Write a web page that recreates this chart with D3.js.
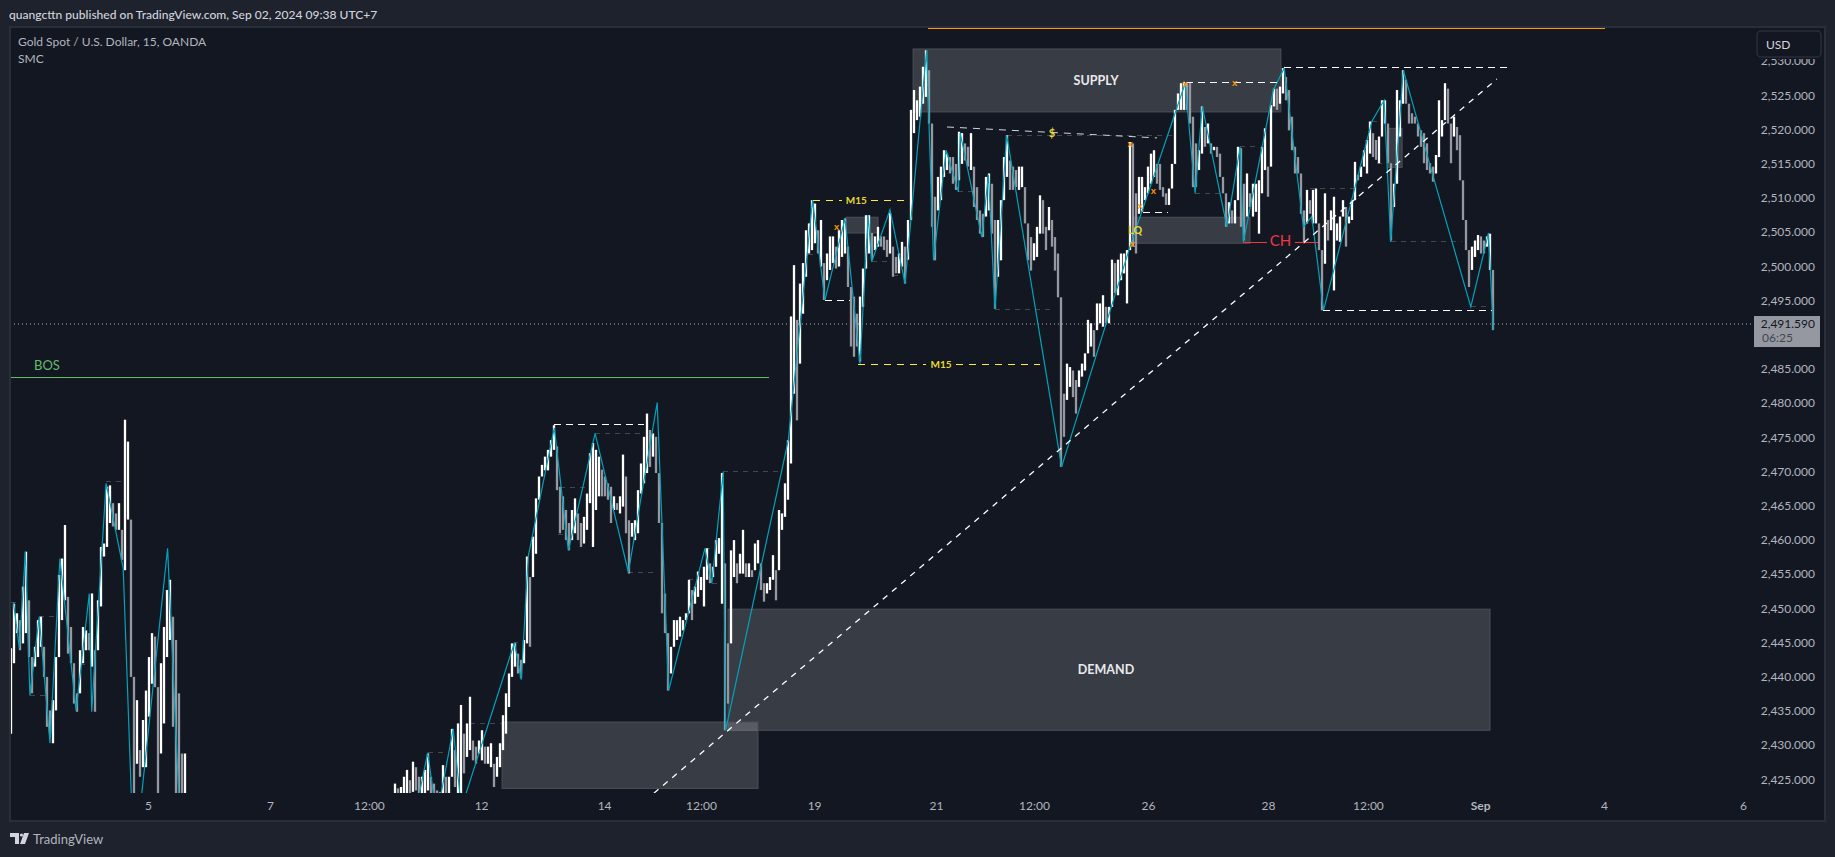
<!DOCTYPE html>
<html><head><meta charset="utf-8">
<script src="https://cdnjs.cloudflare.com/ajax/libs/d3/7.8.5/d3.min.js"></script>
<style>html,body{margin:0;padding:0;background:#1e222d;overflow:hidden}svg{display:block}text{font-family:Lato,"Noto Sans",sans-serif}</style>
</head><body><svg id="c" width="1835" height="857"></svg>
<script>
// [high, low] per visible bar column
const barsStartA = 0;
const barsA = [[2444.2,2431.7],[2450.7,2442],[2449.3,2446.4],[2448.3,2443.9],[2453.2,2444.9],[2458.3,2446.4],[2451.2,2442.9],[2442.9,2437.6],[2444.4,2441.5],[2448.3,2442.9],[2448.8,2444.4],[2444.4,2440],[2440,2432.7],[2435.1,2431.7],[2436.6,2430.3],[2442.9,2435.1],[2454.9,2442.9],[2457.3,2448.3],[2462.2,2451.2],[2451.7,2443.4],[2447.3,2442],[2440.5,2436.1],[2437.6,2434.9],[2443.9,2438.5],[2447.3,2442],[2446.8,2443.9],[2446.4,2443.9],[2452.2,2441.5],[2443.9,2434.9],[2451.2,2445.4],[2459,2450.3],[2459.5,2457.6],[2467.8,2459],[2468,2462.5],[2465.4,2462],[2463.9,2461.5],[2465.4,2461.5],[2461.5,2457.1],[2477.6,2455.6],[2474.4,2463],[2462.9,2440],[2440,2422],[2436.6,2427.3],[2429.3,2425.4],[2433.7,2426.8],[2438,2426.8],[2442.9,2434.2],[2446.4,2439],[2445.9,2438.5],[2437.1,2422],[2442,2428.8],[2447.3,2433.2],[2452.7,2442.9],[2454.2,2445.4],[2448.8,2432.7],[2445.4,2422],[2437.6,2422],[2428.8,2422],[2428.8,2422]];
const barsStartB = 128;
const barsB = [[2424.4,2422],[2423.7,2422],[2423.9,2422],[2425.4,2422],[2426.4,2422],[2424.9,2422],[2427.6,2423.2],[2426.8,2423.4],[2425.4,2422],[2425.4,2422],[2426.4,2422],[2428.8,2423.4],[2425.4,2422],[2424.4,2422],[2423.4,2422],[2423.2,2422],[2427.1,2422],[2425.4,2422],[2425.4,2422],[2432.4,2426.4],[2429.3,2423.9],[2433.2,2422],[2435.9,2422],[2431.7,2425.9],[2433.2,2428.3],[2437.1,2429.3],[2430.7,2427.8],[2429.8,2427.3],[2430.7,2428.8],[2432.2,2427.8],[2429.8,2427.3],[2429.8,2427.3],[2430.3,2426.8],[2427.3,2423.9],[2428.3,2425.4],[2430.3,2426.8],[2434.4,2429.3],[2437.6,2431.7],[2440.5,2435.6],[2444.9,2440],[2444.9,2441.5],[2443.4,2440.5],[2442.5,2439.8],[2445.4,2442],[2457.6,2444.9],[2454.6,2444.4],[2460.5,2454.6],[2466.1,2458],[2469.3,2465.9],[2471,2469.8],[2472.2,2470.2],[2473.2,2470.2],[2474.6,2472.2],[2476.8,2473.2],[2473.7,2467.3],[2467.8,2461],[2466.4,2461.5],[2464.4,2460],[2462.5,2458.5],[2464.4,2460],[2466.1,2461],[2463.9,2460],[2462.5,2459],[2463.4,2459.5],[2466.8,2461.5],[2472.7,2465.4],[2474.2,2459],[2473.2,2464.4],[2472.2,2466.4],[2470.3,2466.4],[2469.3,2466.4],[2468.3,2465.9],[2467.8,2462.5],[2466.4,2464.4],[2465.4,2464.4],[2466.4,2463.9],[2472.5,2464.9],[2469.3,2461],[2462.9,2455.1],[2462.5,2460.5],[2462.9,2460],[2467.3,2461],[2471.2,2466.8],[2475.1,2468.3],[2478.5,2469.8],[2476.1,2470.7],[2475.6,2472.2],[2475.1,2469.8],[2468.8,2462.5],[2458.5,2449.3],[2452.2,2446.4],[2445.4,2438],[2444.4,2440.5],[2448.3,2444.4],[2448.3,2445.4],[2448.8,2445.9],[2448.3,2446.8],[2449.3,2448.3],[2454.2,2449.8],[2452.7,2448.3],[2453.2,2450.7],[2455.4,2451.7],[2454.6,2452.7],[2456.1,2450.3],[2458.8,2454.2],[2456.6,2453.7],[2456.1,2454.6],[2460,2456.6],[2460.3,2458],[2469.8,2450.7],[2456.6,2432.2],[2444.9,2436.1],[2458.5,2450.3],[2460,2454.6],[2456.6,2453.7],[2458,2455.1],[2461.5,2455.1],[2456.6,2454.6],[2456.6,2454.6],[2455.6,2454.6],[2459.5,2456.1],[2460,2456.6],[2456.6,2452.7],[2453.7,2451],[2453.7,2452.2],[2454.6,2452.7],[2457.8,2454.2],[2455.6,2451.2],[2464.4,2459.5],[2463.9,2461.5],[2468.3,2463.4],[2474.6,2465.9]];
const barsStartC = 260;
const barsC = [[2492.7,2471.2],[2500.2,2481.4],[2492.2,2477.5],[2497.5,2485.8],[2500.5,2493.1],[2505.3,2498.5],[2506.3,2501.9],[2509.7,2502.4],[2509.2,2503.4],[2505.3,2501.9],[2506.8,2500],[2500.5,2495.1],[2501.9,2498],[2504.4,2499.5],[2504.4,2500.5],[2502.9,2499.7],[2505.3,2500],[2506.8,2501.4],[2507,2501.9],[2502.9,2497],[2497,2488.3],[2495.6,2486.8],[2493.1,2488.3],[2495.6,2486.1],[2499.7,2494.1],[2507.5,2500],[2507.5,2501.9],[2504.9,2501],[2504.4,2502.4],[2505.8,2502.9],[2504.4,2502.9],[2504.4,2502.4],[2503.9,2501.4],[2507.8,2501.9],[2502.9,2498.5],[2501.4,2499],[2501.9,2499],[2503.6,2500],[2502.9,2497.5],[2506.8,2501]];
const barsStartD = 300;
const barsD = [[2522.9,2515.1],[2525.8,2519.5],[2524.3,2521.4],[2526.3,2521.9],[2529.2,2523.8],[2531.6,2524.8],[2528.7,2520.9],[2514.6,2505.8],[2510.2,2500.9],[2513.1,2508.2],[2514.6,2509.7],[2517,2513.1],[2516.5,2514.1],[2516,2513.6],[2516,2512.1],[2515,2511.2],[2519.7,2512.6],[2519.5,2515],[2518,2515.5],[2517.5,2514.6],[2519.5,2514.1],[2514.6,2508.7],[2511.6,2506.8],[2508.2,2504.8],[2507.7,2504.3],[2513.1,2507.3],[2513.6,2508.2],[2512.1,2504.8],[2506.8,2493.8],[2506.8,2498.5],[2509.7,2500.9],[2516,2509.7],[2519.2,2513.1],[2515.5,2511.2],[2514.6,2511.2],[2514.1,2511.6],[2514.6,2511.2],[2514.6,2511.6],[2510.7,2506.3],[2504.8,2500.9],[2504.3,2499.4],[2503.4,2500.9],[2505.8,2501.4],[2510.4,2504.8],[2509.7,2504.8],[2505.8,2502.4],[2508.7,2505.3],[2506.8,2502.9],[2504.3,2499.4],[2501.9,2495.5],
[2487.3,2470.7],[2481.4,2475.1],[2485.8,2480.5],[2485.3,2482.4],[2484.8,2480.9],[2483.4,2478.5],[2484.8,2482.4],[2485.8,2483.9],[2487.3,2484.8],[2492.2,2487.8],[2491.7,2488.3],[2490.7,2486.8],[2494.6,2490.7],[2494.6,2491.7],[2495.8,2491.2],[2494.1,2491.7],[2494.1,2491.7],[2501,2496.1],[2500.5,2496.1],[2501,2495.8],
[2501.9,2498],[2501.9,2499],[2502.4,2494.6],[2518.2,2503.8],[2518,2502.9],[2510.7,2501.9],[2513.1,2507.7],[2513.1,2508],[2511.6,2509.7],[2514.6,2510.7],[2516.5,2512.1],[2517,2513.1],[2515,2512.1],[2515,2511.2],[2511.6,2510.2],[2510.7,2509],[2511.4,2509],[2515,2511.6],[2522.9,2515],[2525.3,2522.9],[2526.8,2522.9],[2527,2522.9],[2526.8,2522.9],[2526.8,2520.9],[2521.9,2511.6],[2518,2511.6],[2517,2514.1],[2523.4,2516.5],[2520.4,2517.5],[2520.9,2518],[2518,2516.5],[2517.5,2517],[2517.5,2516],[2516.5,2513.1],[2513.1,2510.7],[2508.7,2505.8],[2509.4,2506.3],[2508.2,2506.3],[2509.7,2506.3],[2517.5,2511.6],[2517.3,2505.8],[2512.1,2503.8],[2513.6,2507.3],[2510.7,2508.7],[2512.1,2507.3],[2512.1,2508],[2512.6,2504.8],[2517.5,2510.7],[2520.2,2514.1],[2514.6,2510.2],[2523.6,2518],[2526,2523.4],[2526,2522.9]];
const barsStartE = 423;
const barsE = [[2526.3,2523.8],[2529,2525.3],[2527.7,2524.3],[2525.8,2519.9],[2521.9,2517],[2517.5,2513.6],[2516,2513.6],[2511.7,2507.7],[2508.2,2503.4],[2511.2,2506.3],[2509.7,2507.7],[2511.2,2506.3],[2511.4,2506.3],[2506.3,2502.4],[2501.4,2493.6],[2510.7,2500.4],[2506.8,2503.8],[2508.2,2505.3],[2510.2,2496.5],[2506.3,2503.8],[2507.3,2503.6],[2509.7,2507.3],[2508.7,2502.9],[2507.3,2506.3],[2509.7,2506.8],[2515.3,2511.7],[2513.4,2512.6],[2514.6,2513.1],[2517,2515.1],[2518.5,2513.6],[2521.2,2516.5],[2519.5,2516],[2518.5,2515.6],[2519,2515.1],[2524.3,2519],[2524.3,2520.9],[2520.4,2515.1],[2514.1,2503.8],[2512.1,2508.7],[2525.8,2515.1],[2524.3,2519],[2528.7,2523.8],[2527.3,2523.8],[2523.8,2520.9],[2522.4,2520.9],[2521.9,2520.9],[2520.9,2519],[2519.9,2517.5],[2519.5,2515.1],[2518,2514.1],[2515.1,2513.6],[2514.6,2512.4],[2516.3,2513.6],[2524.3,2516],[2521.4,2519],[2526.8,2523.4],[2526,2520.9],[2520.9,2515.1],[2521.9,2519],[2520.4,2517],[2519.2,2512.6],[2511.7,2506.8],[2505.8,2502.4],[2502.4,2497],[2502.9,2499.5],[2503.8,2501.4],[2504.6,2502.4],[2504.4,2501.9],[2503.8,2501.9],[2504.4,2502.9],[2504.8,2499.5],[2498,2490.7]];

// zigzag pivots [bar, price]; some run below the visible pane
const zigzagLeft = [[0.8,2450.9],[2.8,2444.2],[4.8,2458.3],[6.3,2437.3],[9.4,2448.8],[13,2430.3],[16.3,2457.3],[21.7,2435.1],[26.1,2452.2],[26.9,2434.9],[31.7,2468.3],[37.4,2455.9],[40.4,2419],[42.4,2418],[52.2,2458.8],[56.3,2419]];
const zigzagMain = [[133.4,2417.1],[138.9,2428.9],[141.9,2419.5],[147.4,2432.4],[150.1,2420.8],[167.8,2445],[170.1,2439.6],[172.4,2457.6],[181.1,2476.4],[185.8,2458.5],[194.7,2475.6],[205.8,2455.3],[215.4,2480.1],[219.2,2438],[231.3,2458.8],[233.6,2453.7],[237.4,2470],[238.2,2432.2],[259.1,2474.6],[267.2,2509.7],[271.3,2495.1],[278,2507],[283,2485.8],[285.7,2507.5],[286.9,2500.7],[293,2508.3],[298,2497.5],[305.2,2531.6],[307.5,2500.9],[311.7,2517],[315.8,2510.9],[316.4,2519.5],[323.6,2504.3],[325.8,2513.4],[328,2493.8],[331.9,2519.2],[350.2,2470.7],[373,2502.9],[391.4,2526.8],[394.7,2510.7],[397.1,2523.4],[405.3,2505.8],[409.7,2517.5],[410.8,2503.6],[420.8,2525.8],[424.4,2529],[430.8,2505.8],[433.6,2507.3],[437.5,2493.6],[453.6,2521.2],[457.7,2524.3],[459.9,2503.6],[464.1,2528.7],[474.1,2513.1],[486.6,2494.1],[492.5,2504.9],[494.1,2490.7]];

// zones [barFrom, barTo, priceTop, priceBottom]
const zones = [[300.7,423.3,2531.8,2522.6],[239,493,2449.9,2432.2],[163.7,249,2433.4,2423.7],[374,413,2507.2,2503.4],[278.3,289,2507.2,2504.9],[459,463.7,2520.2,2514.5]];
const zoneLabels = [["SUPPLY",361.7,2527.2],["DEMAND",365,2441]];
// level lines [barFrom, barTo, price]
const faintLevels = [[0,2.4,2450.9],[9.4,14.7,2448.8],[6.3,11.3,2437.3],[31.7,36.9,2468.5],[23,24.7,2441.8],[194.7,211.3,2475.6],[183,192.4,2467.7],[182.4,184.1,2460.8],[205.8,214.7,2455.3],[138.9,144.1,2428.9],[153,165.8,2433.2],[237.4,257.4,2470.1],[231.3,233,2458.8],[233.6,237.4,2453.7],[226.1,227.4,2454.3],[167.8,169.1,2445],[265.7,267.4,2501.8],[286.9,292.4,2500.7],[294.1,296.3,2498.7],[328,348,2493.7],[331.9,388,2519.1],[315.8,320.3,2510.9],[394.7,403,2510.7],[409.7,415.3,2517.5],[433,448,2511.4],[459.9,483.6,2503.7],[453.6,455.3,2521.2],[455.3,457.5,2515.1],[486.6,493,2494.1]];
const whiteLevels = [[181,211,2476.9],[271.3,279.7,2495.1],[391.7,423,2526.9],[424.3,498.7,2529.1],[437.3,493.7,2493.6],[377.3,385.7,2507.9]];
const yellowLevels = [[267.3,277,2509.7],[286.5,298.7,2509.7],[282.3,305,2485.7],[315,343,2485.7]];
const yellowLabels = [["M15",281.8,2509.7],["M15",310,2485.7]];
const redLevels = [[410.7,418.5,2503.5],[428,435.7,2503.5]];
const chLabel = ["CH",423.2,2503.7];
const slopedLevel = [[312,2520.4],[382,2518.8]];
const trendline = [[214.3,2423],[495.3,2527.4]];
const bosLine = [[0,252.7,2483.7]];
const bosLabel = ["BOS",12,2485.6];
const orangeLine = [[305.7,531.3,2534.8]];
const crossMarks = [[373,2517.9],[376.4,2508.9],[380.8,2511],[391.4,2526.7],[407.9,2526.9],[373.8,2503.3],[275.2,2505.8]];
const smallLabels = [["$",347,2519.5],["LQ",374.7,2505.3]];
const lastPrice = 2491.59;
const priceTicks = [2530,2525,2520,2515,2510,2505,2500,2495,2485,2480,2475,2470,2465,2460,2455,2450,2445,2440,2435,2430,2425];
const timeTickBars = [45.7,86.3,119.3,156.7,197.7,230,267.7,308.3,341,379,419,452.3,489.7,531,577.3];
const timeTickLabels = ["5","7","12:00","12","14","12:00","19","21","12:00","26","28","12:00","Sep","4","6"];

const W=1835,H=857, paneL=10,paneT=27,paneR=1825,paneB=821, plotR=1752, plotB=793;
const x=d3.scaleLinear().domain([0,494]).range([11,1493]);
const y=d3.scaleLinear().domain([2525,2425]).range([95.5,779.5]);
const svg=d3.select("#c");
const fmt=d3.format(",.3f");
svg.append("rect").attr("width",W).attr("height",H).attr("fill","#1e222d");
svg.append("rect").attr("x",paneL).attr("y",paneT).attr("width",paneR-paneL).attr("height",paneB-paneT).attr("fill","#131722").attr("stroke","#2a2e39").attr("stroke-width",2);
svg.append("text").attr("x",9).attr("y",19).attr("fill","#d1d4dc").attr("font-size",12.05).attr("font-weight",500).text("quangcttn published on TradingView.com, Sep 02, 2024 09:38 UTC+7");

const defs=svg.append("defs");
defs.append("clipPath").attr("id","plot").append("rect").attr("x",paneL+1).attr("y",paneT+1).attr("width",plotR-paneL-1).attr("height",plotB-paneT-1);
const g=svg.append("g").attr("clip-path","url(#plot)");

// zones
g.selectAll("rect.z").data(zones).join("rect").attr("class","z")
 .attr("x",d=>x(d[0])).attr("width",d=>x(d[1])-x(d[0])).attr("y",d=>y(d[2])).attr("height",d=>y(d[3])-y(d[2]))
 .attr("fill","#ffffff").attr("fill-opacity",.16).attr("stroke","#4c4f58").attr("stroke-width",1);

// last price dotted line
g.append("line").attr("x1",paneL).attr("x2",plotR).attr("y1",y(lastPrice)).attr("y2",y(lastPrice)).attr("stroke","#b2b5be").attr("stroke-width",1).attr("stroke-dasharray","1 3");

function levels(data,color,dash,w){
  g.append("g").attr("shape-rendering","crispEdges").selectAll("line").data(data).join("line")
   .attr("x1",d=>x(d[0])).attr("x2",d=>x(d[1])).attr("y1",d=>y(d[2])).attr("y2",d=>y(d[2]))
   .attr("stroke",color).attr("stroke-width",w||1).attr("stroke-dasharray",dash);
}
levels(faintLevels,"#434651","5 5");

// bars: each column reaches to its neighbour so the trace stays connected
const zig=d3.line().x(d=>x(d[0])).y(d=>y(d[1]));
function drawBars(bars,start,before){
  const mid=d=>(d[0]+d[1])/2;
  const prev=i=>i>0?bars[i-1]:before;
  g.append("g").selectAll("line").data(bars).join("line")
   .attr("x1",(d,i)=>x(start+i)).attr("x2",(d,i)=>x(start+i))
   .attr("y1",(d,i)=>{const p=prev(i);return y(p&&d[0]<p[1]?p[1]:d[0]);})
   .attr("y2",(d,i)=>{const p=prev(i);return y(p&&d[1]>p[0]?p[0]:d[1]);})
   .attr("stroke",(d,i)=>{const p=prev(i);return (!p||mid(d)>=mid(p))?"#ffffff":(d[0]>p[0]?"#ffffff":"#9598a1");})
   .attr("stroke-width",2.3);
}
drawBars(barsA,barsStartA);
drawBars(barsB,barsStartB);
drawBars(barsC,barsStartC,barsB[barsB.length-1]);
drawBars(barsD,barsStartD,barsC[barsC.length-1]);
drawBars(barsE,barsStartE,barsD[barsD.length-1]);

[zigzagLeft,zigzagMain].forEach(p=>g.append("path").attr("d",zig(p)).attr("fill","none").attr("stroke","#00a3bb").attr("stroke-width",1.2));

levels(whiteLevels,"#ffffff","7 5");
levels(yellowLevels,"#ffeb3b","7 6");
levels(redLevels,"#f23645",null,1);
levels(bosLine,"#66bb6a",null,1);
levels(orangeLine,"#ff9800",null,1);
g.append("path").attr("d",zig(slopedLevel)).attr("fill","none").attr("stroke","#d1d4dc").attr("stroke-width",1).attr("stroke-dasharray","7 6");
g.append("path").attr("d",zig(trendline)).attr("fill","none").attr("stroke","#ffffff").attr("stroke-width",1.3).attr("stroke-dasharray","6 6");

g.selectAll("text.zl").data(zoneLabels).join("text").attr("class","zl").attr("x",d=>x(d[1])).attr("y",d=>y(d[2])).attr("dy","0.35em")
 .attr("text-anchor","middle").attr("fill","#e8e9ec").attr("font-size",12.5).attr("font-weight",700).text(d=>d[0]);
g.selectAll("text.yl").data(yellowLabels).join("text").attr("class","yl").attr("x",d=>x(d[1])).attr("y",d=>y(d[2])).attr("dy","0.35em")
 .attr("text-anchor","middle").attr("fill","#e5d832").attr("font-size",10).attr("font-weight",700).text(d=>d[0]);
g.selectAll("text.sl").data(smallLabels).join("text").attr("class","sl").attr("x",d=>x(d[1])).attr("y",d=>y(d[2])).attr("dy","0.35em")
 .attr("text-anchor","middle").attr("fill","#e5d832").attr("font-size",11).attr("font-weight",700).text(d=>d[0]);
g.selectAll("text.xm").data(crossMarks).join("text").attr("class","xm").attr("x",d=>x(d[0])).attr("y",d=>y(d[1])).attr("dy","0.3em")
 .attr("text-anchor","middle").attr("fill","#ff9800").attr("font-size",10).attr("font-weight",700).text("x");
g.append("text").attr("x",x(chLabel[1])).attr("y",y(chLabel[2])).attr("dy","0.35em").attr("text-anchor","middle").attr("fill","#f23645").attr("font-size",15).text(chLabel[0]);
g.append("text").attr("x",x(bosLabel[1])).attr("y",y(bosLabel[2])).attr("dy","0.35em").attr("text-anchor","middle").attr("fill","#66bb6a").attr("font-size",13).text(bosLabel[0]);

// title
svg.append("text").attr("x",18).attr("y",46).attr("fill","#b2b5be").attr("font-size",12).text("Gold Spot / U.S. Dollar, 15, OANDA");
svg.append("text").attr("x",18).attr("y",63).attr("fill","#b2b5be").attr("font-size",12).text("SMC");

// axes
const yAxis=d3.axisRight(y).tickValues(priceTicks).tickSize(0).tickPadding(0).tickFormat(fmt);
const ya=svg.append("g").attr("transform","translate(1815,0)").call(yAxis);
ya.select(".domain").remove();
ya.selectAll("text").attr("text-anchor","end").attr("fill","#b2b5be").attr("font-size",12).attr("x",0).attr("dy","0.3em").style("font-family","Lato");
const xAxis=d3.axisBottom(x).tickValues(timeTickBars).tickSize(0).tickPadding(0).tickFormat((d,i)=>timeTickLabels[i]);
const xa=svg.append("g").attr("transform","translate(0,801)").call(xAxis);
xa.select(".domain").remove();
xa.selectAll("text").attr("fill","#b2b5be").attr("font-size",12).style("font-family","Lato").attr("font-weight",(d,i)=>timeTickLabels[i]==="Sep"?700:400);

// currency button, with a mask that hides the top of the highest price label as in the reference
svg.append("rect").attr("x",1755).attr("y",28).attr("width",68).attr("height",31).attr("fill","#131722");
svg.append("rect").attr("x",1757).attr("y",31).attr("width",64).attr("height",26).attr("rx",4).attr("fill","#131722").attr("stroke","#2a2e39").attr("stroke-width",1.5);
svg.append("text").attr("x",1766).attr("y",49).attr("fill","#d1d4dc").attr("font-size",12).text("USD");

// last price tag
const tagY=y(lastPrice);
svg.append("rect").attr("x",1754).attr("y",tagY-8).attr("width",66).attr("height",31).attr("fill","#9598a1");
svg.append("text").attr("x",1815).attr("y",tagY+4).attr("text-anchor","end").attr("fill","#131722").attr("font-size",12).text(fmt(lastPrice));
svg.append("text").attr("x",1762).attr("y",tagY+18).attr("fill","#434651").attr("font-size",12).text("06:25");

// logo
svg.append("path").attr("d","M10 833h9v11h-4v-7h-5zM20 844l4-11h5l-4 11z").attr("fill","#d1d4dc");
svg.append("circle").attr("cx",21.5).attr("cy",835).attr("r",1.6).attr("fill","#d1d4dc");
svg.append("text").attr("x",33).attr("y",844).attr("fill","#b2b5be").attr("font-size",13).text("TradingView");
</script></body></html>
